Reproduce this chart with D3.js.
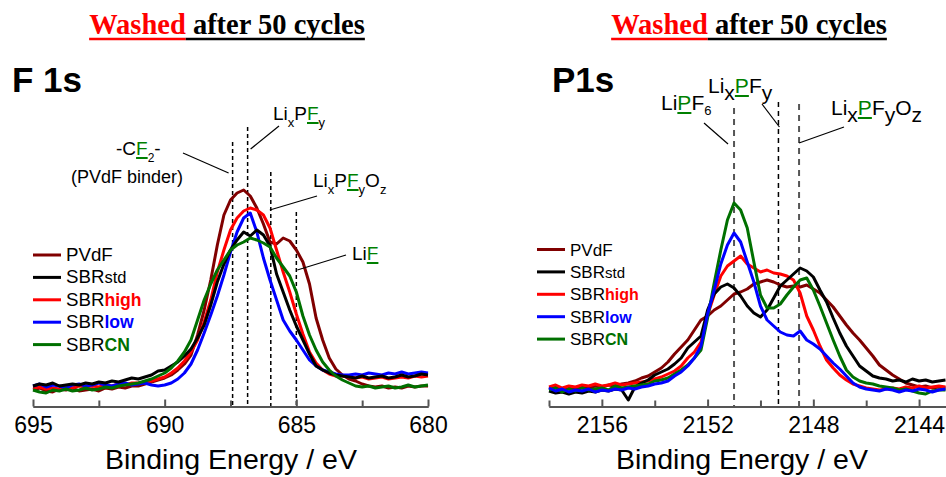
<!DOCTYPE html>
<html>
<head>
<meta charset="utf-8">
<style>
  body { margin: 0; background: #fff; }
  svg { display: block; font-family: Arial, "Liberation Sans", sans-serif; }
</style>
</head>
<body>
<div id="chart"></div>
<script src="https://d3js.org/d3.v7.min.js"></script>
<script>
// series (intensity, arbitrary units)
const seriesKeys = ["PVdF", "SBRstd", "SBRhigh", "SBRlow", "SBRCN"];

const f1sEnergy = [695,694.75,694.5,694.25,694,693.75,693.5,693.25,693,692.75,692.5,692.25,692,691.75,691.5,691.25,
  691,690.75,690.5,690.25,690,689.75,689.5,689.25,689,688.75,688.5,688.25,688,687.75,687.5,687.25,687,686.75,686.5,
  686.25,686,685.75,685.5,685.25,685,684.75,684.5,684.25,684,683.75,683.5,683.25,683,682.75,682.5,682.25,682,681.75,
  681.5,681.25,681,680.75,680.5,680.25,680];
const f1sPVdF = [10,12,9,8,11,10,12,9,10,11,9,12,11,13,12,14,14,16,18,20,22,25,30,36,45,65,90,120,155,185,200,207,210,
  204,192,176,158,156,162,159,150,138,116,82,60,42,31,25,21,19,16,14,13,14,12,13,12,14,13,14,14];
const f1sStd = [14,16,15,17,14,15,16,15,17,16,18,17,19,18,20,22,21,23,25,29,30,34,38,44,51,62,75,95,118,136,150,160,168,
  164,170,165,154,126,108,90,74,60,46,34,30,27,25,24,23,22,24,22,23,24,22,23,25,23,24,26,25];
const f1sHigh = [12,13,11,12,11,13,12,14,13,14,13,15,14,16,15,17,17,18,19,21,23,27,32,39,48,60,78,100,128,150,170,182,
  189,192,190,185,172,150,128,108,86,66,48,37,30,26,24,24,23,22,23,21,22,23,21,22,23,22,24,23,24];
const f1sLow = [14,16,13,15,14,12,15,16,14,15,17,15,14,16,17,15,16,17,15,14,15,17,21,27,36,50,67,85,104,125,148,168,182,
  187,168,142,120,100,80,69,60,50,40,34,30,28,26,25,25,26,25,27,26,25,27,26,28,26,27,28,27];
const f1sCN = [10,8,7,10,9,11,9,10,12,10,11,13,12,14,15,16,17,19,21,24,27,32,39,48,60,80,100,116,130,140,150,155,158,
  162,160,157,153,142,133,124,108,84,65,50,38,30,24,20,17,14,13,14,12,13,14,12,13,15,13,14,15];

const p1sEnergy = [2158,2157.75,2157.5,2157.25,2157,2156.75,2156.5,2156.25,2156,2155.75,2155.5,2155.25,2155,2154.75,
  2154.5,2154.25,2154,2153.75,2153.5,2153.25,2153,2152.75,2152.5,2152.25,2152,2151.75,2151.5,2151.25,2151,2150.75,
  2150.5,2150.25,2150,2149.75,2149.5,2149.25,2149,2148.75,2148.5,2148.25,2148,2147.75,2147.5,2147.25,2147,2146.75,
  2146.5,2146.25,2146,2145.75,2145.5,2145.25,2145,2144.75,2144.5,2144.25,2144,2143.75,2143.5,2143.25,2143];
const p1sPVdF = [11,13,10,12,11,14,12,14,13,15,14,16,17,19,22,24,28,32,38,46,53,60,70,80,84,90,94,100,106,108,111,116,
  118,120,118,115,113,114,113,115,111,107,100,93,84,75,67,60,52,44,35,30,25,21,17,15,13,14,12,13,12];
const p1sStd = [9,7,8,6,8,7,9,8,10,9,11,10,0,13,17,20,25,28,31,36,42,52,58,64,90,106,113,116,112,104,94,87,83,90,102,
  114,120,126,132,129,123,110,98,82,67,54,44,34,29,24,22,21,19,20,18,21,19,20,18,19,20];
const p1sHigh = [13,15,12,14,13,15,14,16,14,15,17,15,16,17,18,19,21,23,26,29,34,42,48,58,85,105,124,134,139,144,136,132,
  128,130,127,126,124,120,107,84,70,54,40,32,25,20,16,14,12,11,10,11,12,11,13,12,14,12,13,14,13];
const p1sLow = [12,9,11,8,10,9,11,8,10,9,11,10,12,11,13,14,16,17,19,24,28,34,42,54,86,110,136,155,167,158,138,118,94,
  80,74,68,65,64,69,60,56,51,44,37,31,24,17,13,11,10,9,11,10,8,10,9,11,10,8,10,11];
const p1sCN = [10,12,8,11,9,12,10,11,12,10,14,12,13,14,15,16,19,20,22,26,30,35,42,50,82,117,150,180,197,190,172,138,105,
  92,92,96,105,113,120,122,110,94,77,60,44,30,23,19,17,16,14,13,12,10,11,9,7,6,9,10,10];

// reference binding energies (dashed lines)
const f1sRefs = [687.42, 686.85, 685.97, 685.0];
const p1sRefs = [2151.0, 2149.32, 2148.54];

// axis ticks
const f1sMajor = [695, 690, 685, 680];
const f1sMinor = [692.5, 687.5, 682.5];
const p1sMajor = [2156, 2152, 2148, 2144];
const p1sMinor = [2158, 2154, 2150, 2146];

const colors = { PVdF: "#800000", SBRstd: "#000000", SBRhigh: "#ff0000", SBRlow: "#0000ff", SBRCN: "#007000" };
const GREEN = "#008000";

const svg = d3.select("#chart").append("svg").attr("width", 946).attr("height", 477);

// underline helper for a tspan
function underline(g, ts, yLine, color, w) {
  const n = ts.node();
  const x0 = n.getStartPositionOfChar(0).x;
  const len = n.getComputedTextLength();
  g.append("line").attr("x1", x0).attr("x2", x0 + len).attr("y1", yLine).attr("y2", yLine)
    .attr("stroke", color).attr("stroke-width", w);
}

// rich label: parts {t, dy (offset from baseline), size, green}
function label(g, x, y, size, parts) {
  const t = g.append("text").attr("x", x).attr("y", y).style("font-size", size + "px").attr("fill", "#000");
  let cur = 0;
  const spans = parts.map(p => {
    const off = p.dy || 0;
    const ts = t.append("tspan").text(p.t);
    if (off !== cur) ts.attr("dy", off - cur);
    cur = off;
    if (p.size) ts.style("font-size", p.size + "px");
    if (p.green) ts.attr("fill", GREEN);
    return ts;
  });
  parts.forEach((p, i) => { if (p.green) underline(g, spans[i], y + 3, GREEN, 2); });
}

function title(cx) {
  const g = svg.append("g");
  const t = g.append("text").attr("x", cx).attr("y", 34).attr("text-anchor", "middle")
    .style("font-family", "'Liberation Serif', 'Times New Roman', serif")
    .style("font-weight", "bold").style("font-size", "28.5px");
  const a = t.append("tspan").attr("fill", "#ff0000").text("Washed");
  const b = t.append("tspan").attr("fill", "#000").text(" after 50 cycles");
  underline(g, a, 39, "#ff0000", 2.5);
  underline(g, b, 39, "#000", 2.5);
}

function legend(g, x0, y0, scale) {
  const step = 22.4;
  const suffix = {
    PVdF: null,
    SBRstd: { t: "std", bold: false, size: 15, color: "#000" },
    SBRhigh: { t: "high", bold: true, size: 16, color: "#ff0000" },
    SBRlow: { t: "low", bold: true, size: 16, color: "#0000ff" },
    SBRCN: { t: "CN", bold: true, size: 16, color: "#007000" }
  };
  seriesKeys.forEach((k, i) => {
    const yy = y0 + i * step;
    g.append("line").attr("x1", x0).attr("x2", x0 + 28).attr("y1", yy).attr("y2", yy)
      .attr("stroke", colors[k]).attr("stroke-width", 3);
    const t = g.append("text").attr("x", x0 + 33).attr("y", yy + 6).style("font-size", (17 * scale) + "px");
    const s = suffix[k];
    t.append("tspan").text(s ? "SBR" : k);
    if (s) {
      t.append("tspan").text(s.t).attr("fill", s.color).style("font-size", (s.size * scale) + "px")
        .style("font-weight", s.bold ? "bold" : "normal");
    }
  });
}

function panel(cfg) {
  const g = svg.append("g");
  const x = d3.scaleLinear().domain(cfg.domain).range(cfg.range);
  const y = d3.scaleLinear().domain([0, 210]).range([400, 190]);
  const axisY = 406.5;

  // reference lines
  cfg.refs.forEach((e, i) => {
    const st = cfg.refStyle[i];
    g.append("line").attr("x1", x(e)).attr("x2", x(e)).attr("y1", cfg.refTop[i]).attr("y2", axisY)
      .attr("stroke", st.color).attr("stroke-width", st.w).attr("stroke-dasharray", st.dash);
  });

  // spectra
  const line = d3.line().x((d, i) => x(cfg.energy[i])).y(d => y(d));
  cfg.order.forEach(k => {
    g.append("path").datum(cfg.data[k]).attr("d", line).attr("fill", "none")
      .attr("stroke", colors[k]).attr("stroke-width", 3).attr("stroke-linejoin", "round");
  });

  // axes
  const minor = d3.axisBottom(x).tickValues(cfg.minor).tickSizeInner(-6).tickSizeOuter(0).tickFormat("");
  const major = d3.axisBottom(x).tickValues(cfg.major).tickSizeInner(-7).tickSizeOuter(0)
    .tickPadding(10).tickFormat(d3.format("d"));
  const gm = g.append("g").attr("transform", `translate(0,${axisY})`).call(minor);
  const gM = g.append("g").attr("transform", `translate(0,${axisY})`).call(major);
  [gm, gM].forEach(a => {
    a.select(".domain").attr("stroke", "#555").attr("stroke-width", 2);
    a.selectAll(".tick line").attr("stroke", "#555").attr("stroke-width", 2);
  });
  gM.selectAll(".tick text").attr("fill", "#000").style("font-size", "23px")
    .style("font-family", "Arial, 'Liberation Sans', sans-serif");

  g.append("text").attr("x", cfg.labelX).attr("y", 469).attr("text-anchor", "middle")
    .style("font-size", "28.5px").text("Binding Energy / eV");

  g.append("text").attr("x", cfg.nameX).attr("y", 92).style("font-size", "35px")
    .style("font-weight", "bold").text(cfg.name);

  legend(g, cfg.legendX, cfg.legendY, cfg.legendScale);
  return { g, x };
}

title(227);
title(749);

const left = panel({
  name: "F 1s", nameX: 12, domain: [695, 680], range: [33, 428], energy: f1sEnergy,
  data: { PVdF: f1sPVdF, SBRstd: f1sStd, SBRhigh: f1sHigh, SBRlow: f1sLow, SBRCN: f1sCN },
  order: ["PVdF", "SBRhigh", "SBRlow", "SBRstd", "SBRCN"],
  refs: f1sRefs, refTop: [142, 127, 172, 212],
  refStyle: [0, 1, 2, 3].map(() => ({ color: "#000", w: 1.5, dash: "4,3" })),
  major: f1sMajor, minor: f1sMinor, labelX: 231, legendX: 33, legendY: 255, legendScale: 1.1
});

const right = panel({
  name: "P1s", nameX: 552, domain: [2158, 2143], range: [549, 945.5], energy: p1sEnergy,
  data: { PVdF: p1sPVdF, SBRstd: p1sStd, SBRhigh: p1sHigh, SBRlow: p1sLow, SBRCN: p1sCN },
  order: ["PVdF", "SBRhigh", "SBRstd", "SBRCN", "SBRlow"],
  refs: p1sRefs, refTop: [108, 102, 104],
  refStyle: [{ color: "#555", w: 2, dash: "6,5" }, { color: "#000", w: 1.5, dash: "5,4" }, { color: "#555", w: 2, dash: "6,5" }],
  major: p1sMajor, minor: p1sMinor, labelX: 742, legendX: 537, legendY: 249.5, legendScale: 1
});

// F 1s annotations
const lg = left.g, lx = left.x;
label(lg, 116, 155, 19, [{ t: "-C" }, { t: "F", green: true }, { t: "2", dy: 6.5, size: 12 }, { t: "-" }]);
lg.append("text").attr("x", 71).attr("y", 183).style("font-size", "18px").text("(PVdF binder)");
label(lg, 273, 120, 19, [{ t: "Li" }, { t: "x", dy: 7, size: 13 }, { t: "P" }, { t: "F", green: true }, { t: "y", dy: 7, size: 13 }]);
label(lg, 313, 187, 19, [{ t: "Li" }, { t: "x", dy: 7, size: 13 }, { t: "P" }, { t: "F", green: true }, { t: "y", dy: 7, size: 13 }, { t: "O" }, { t: "z", dy: 7, size: 13 }]);
label(lg, 352, 260, 19, [{ t: "Li" }, { t: "F", green: true }]);
const lead = (g, x1, y1, x2, y2) => g.append("line").attr("x1", x1).attr("y1", y1).attr("x2", x2).attr("y2", y2)
  .attr("stroke", "#000").attr("stroke-width", 1.2);
lead(lg, 183, 153, lx(f1sRefs[0]) - 4, 173);
lead(lg, 279, 126, lx(f1sRefs[1]) + 3, 149);
lead(lg, 317, 196, lx(f1sRefs[2]) - 1, 210);
lead(lg, 346, 255, lx(f1sRefs[3]) + 1, 270);

// P1s annotations
const rg = right.g, rx = right.x;
label(rg, 661, 110, 21, [{ t: "Li" }, { t: "P", green: true }, { t: "F" }, { t: "6", dy: 5, size: 13 }]);
label(rg, 708, 93, 21, [{ t: "Li" }, { t: "x", dy: 7 }, { t: "P", green: true }, { t: "F" }, { t: "y", dy: 7 }]);
label(rg, 831, 115, 21, [{ t: "Li" }, { t: "x", dy: 7 }, { t: "P", green: true }, { t: "F" }, { t: "y", dy: 7 }, { t: "O" }, { t: "z", dy: 7 }]);
lead(rg, 704, 123, rx(p1sRefs[0]) - 6, 144);
lead(rg, 762, 104, rx(p1sRefs[1]) + 1, 127);
lead(rg, 844, 127, rx(p1sRefs[2]), 143);
</script>
</body>
</html>
